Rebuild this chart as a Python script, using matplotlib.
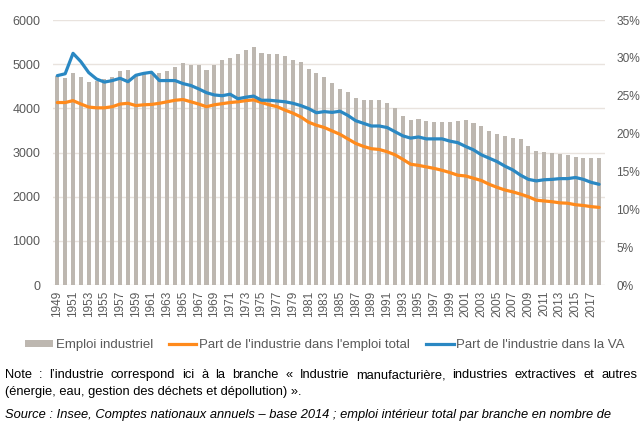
import numpy as np
import matplotlib
matplotlib.use("Agg")
import matplotlib.pyplot as plt
from matplotlib.patches import Patch
from matplotlib.lines import Line2D
from matplotlib.ticker import FuncFormatter

plt.rcParams['font.family'] = ['Liberation Sans', 'DejaVu Sans']

years = list(range(1949, 2019))

# emploi industriel, en milliers
emploi = [
    4730, 4690, 4790, 4710, 4600, 4620, 4660, 4705, 4840, 4865,
    4750, 4780, 4790, 4800, 4840, 4925, 5035, 4980, 4990, 4865,
    4990, 5090, 5150, 5220, 5317, 5380, 5255, 5240, 5240, 5190,
    5105, 5050, 4880, 4810, 4710, 4575, 4445, 4360, 4245, 4185,
    4200, 4200, 4130, 4000, 3825, 3735, 3750, 3720, 3700, 3700,
    3680, 3720, 3735, 3675, 3600, 3490, 3430, 3370, 3335, 3295,
    3145, 3025, 3010, 2995, 2955, 2935, 2890, 2880, 2865, 2865,
]

# part de l'industrie dans l'emploi total, en %
part_emploi = [
    24.1, 24.1, 24.35, 23.9, 23.5, 23.4, 23.4, 23.55, 23.9, 24.0,
    23.7, 23.8, 23.85, 24.0, 24.2, 24.4, 24.5, 24.2, 23.9, 23.55,
    23.8, 23.95, 24.1, 24.2, 24.35, 24.45, 24.1, 23.8, 23.55, 23.1,
    22.7, 22.2, 21.5, 21.1, 20.8, 20.35, 19.9, 19.3, 18.7, 18.3,
    18.0, 17.9, 17.6, 17.2, 16.6, 15.95, 15.8, 15.6, 15.4, 15.15,
    14.85, 14.5, 14.4, 14.1, 13.8, 13.3, 12.9, 12.55, 12.3, 12.0,
    11.65, 11.2, 11.1, 11.0, 10.85, 10.8, 10.6, 10.5, 10.35, 10.25,
]

# part de l'industrie dans la valeur ajoutée, en %
part_va = [
    27.65, 27.9, 30.6, 29.5, 28.05, 27.2, 26.8, 27.0, 27.3, 26.85,
    27.7, 27.95, 28.1, 27.0, 27.0, 27.0, 26.6, 26.35, 25.9, 25.4,
    25.1, 25.0, 25.2, 24.6, 24.8, 24.95, 24.4, 24.4, 24.3, 24.2,
    24.0, 23.7, 23.3, 22.75, 22.9, 22.8, 22.95, 22.4, 21.7, 21.35,
    21.0, 21.0, 20.8, 20.25, 19.7, 19.4, 19.55, 19.3, 19.3, 19.3,
    19.0, 18.8, 18.3, 17.85, 17.2, 16.75, 16.3, 15.7, 15.2, 14.5,
    13.95, 13.75, 13.9, 13.95, 14.05, 14.05, 14.2, 13.95, 13.55, 13.3,
]

BAR_COLOR = '#bdb7b0'
ORANGE = '#ff8a1c'
BLUE = '#2a88c3'
GRID = '#e9e3de'
TXT = '#595959'

W, H = 641, 423
fig = plt.figure(figsize=(W / 100, H / 100), dpi=100)
ax = fig.add_axes([53 / W, 1 - 285 / H, 552 / W, 265 / H])
ax2 = ax.twinx()

x = np.arange(len(years))
ax.bar(x, emploi, width=0.52, color=BAR_COLOR, zorder=2)
ax2.plot(x, part_emploi, color=ORANGE, lw=2.3, solid_capstyle='round', zorder=3)
ax2.plot(x, part_va, color=BLUE, lw=2.3, solid_capstyle='round', zorder=4)

ax.set_xlim(-0.55, len(years) - 0.25)
ax.set_ylim(0, 6000)
ax.set_yticks(range(0, 6001, 1000))
ax2.set_ylim(0, 35)
ax2.set_yticks(range(0, 36, 5))
ax2.yaxis.set_major_formatter(FuncFormatter(lambda v, p: f"{int(v)}%"))

ax.set_xticks(x[::2])
ax.set_xticklabels([str(y) for y in years[::2]], rotation=90)

ax.grid(axis='y', color=GRID, lw=1, zorder=0)
ax.set_axisbelow(True)
for a in (ax, ax2):
    for s in a.spines.values():
        s.set_visible(False)
ax.tick_params(axis='both', length=0, labelsize=9, colors=TXT)
ax.tick_params(axis='y', pad=9)
ax.tick_params(axis='x', pad=4, labelsize=8.5)
ax2.tick_params(axis='y', length=0, labelsize=8.6, colors=TXT, pad=8)

handles = [
    Patch(facecolor=BAR_COLOR, edgecolor='none'),
    Line2D([], [], color=ORANGE, lw=2.3),
    Line2D([], [], color=BLUE, lw=2.3),
]
labels = ["Emploi industriel", "Part de l'industrie dans l'emploi total",
          "Part de l'industrie dans la VA"]
leg = fig.legend(handles, labels, loc='center', bbox_to_anchor=(325 / W, 1 - 345 / H),
                 ncol=3, frameon=False, fontsize=9.5, handlelength=2.1,
                 handleheight=0.4, handletextpad=0.2, columnspacing=1.2,
                 borderpad=0, borderaxespad=0)
for t in leg.get_texts():
    t.set_color(TXT)


def justified(fig, text, x0, x1, y, **kw):
    # place words so the line spans exactly x0..x1 (pixels)
    words = text.split(' ')
    r = fig.canvas.get_renderer()
    objs = [fig.text(0, 1 - y / H, w, va='baseline', **kw) for w in words]
    widths = [o.get_window_extent(r).width for o in objs]
    gap = (x1 - x0 - sum(widths)) / (len(words) - 1)
    pos = x0
    for o, w in zip(objs, widths):
        o.set_x(pos / W)
        pos += w + gap


note1 = ("Note : l\u2019industrie correspond ici à la branche « Industrie "
         "manufacturière, industries extractives et autres")
note2 = "(énergie, eau, gestion des déchets et dépollution) »."
source = ("Source : Insee, Comptes nationaux annuels – base 2014 ; emploi "
          "intérieur total par branche en nombre de")

justified(fig, note1, 5, 637, 378, fontsize=9.3, color='black')
fig.text(5 / W, 1 - 395 / H, note2, va='baseline', fontsize=9.3, color='black')
fig.text(5 / W, 1 - 418 / H, source, va='baseline', fontsize=9.3,
         style='italic', color='black')

fig.savefig('out.png', dpi=100)
